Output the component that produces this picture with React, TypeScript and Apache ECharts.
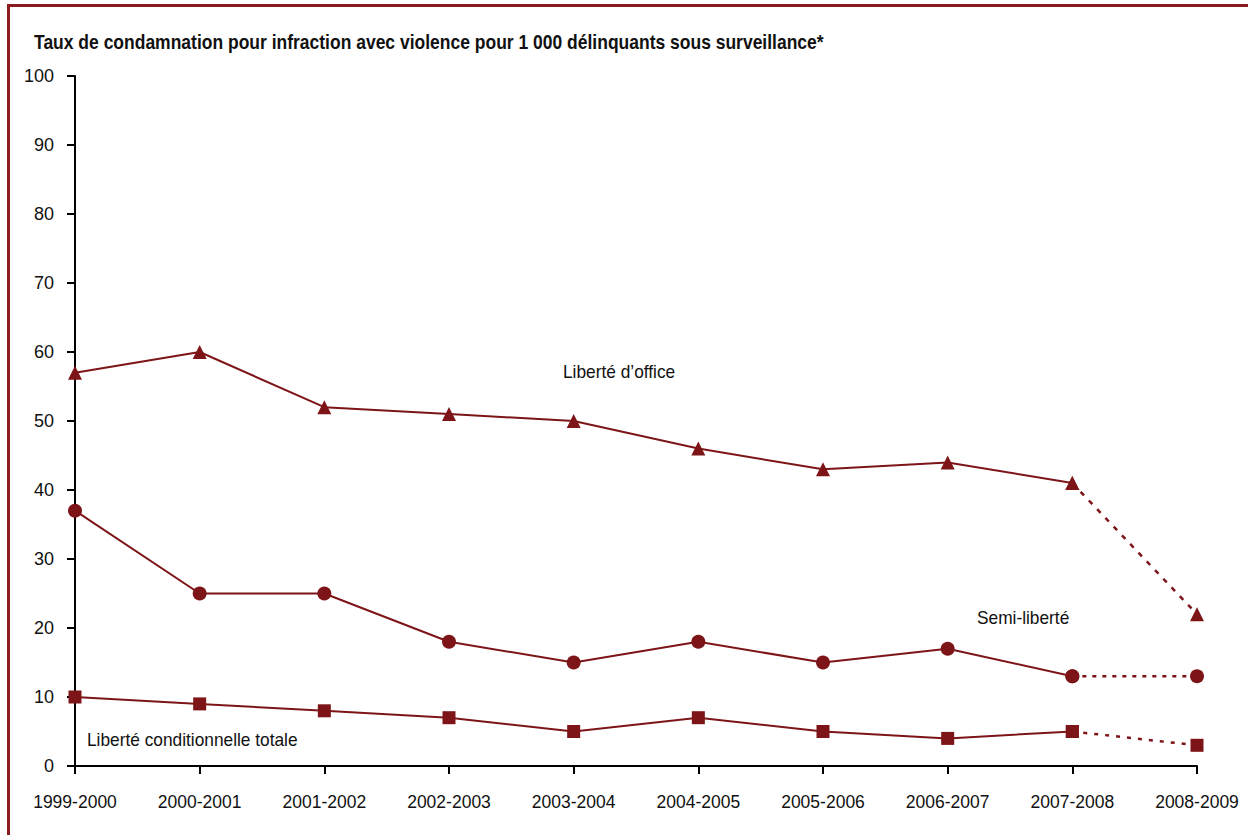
import React, { useEffect, useRef } from "react";
import * as echarts from "echarts";

const categories = ["1999-2000", "2000-2001", "2001-2002", "2002-2003", "2003-2004", "2004-2005", "2005-2006", "2006-2007", "2007-2008", "2008-2009"];
const liberteOffice = [57, 60, 52, 51, 50, 46, 43, 44, 41, 22];
const semiLiberte = [37, 25, 25, 18, 15, 18, 15, 17, 13, 13];
const liberteConditionnelle = [10, 9, 8, 7, 5, 7, 5, 4, 5, 3];
const yTicks = { min: 0, max: 100, interval: 10 };
const title = "Taux de condamnation pour infraction avec violence pour 1 000 délinquants sous surveillance*";

const RED = "#7d1518";
const FONT = "'Liberation Sans', Arial, sans-serif";

function solidPart(arr: number[]) {
  return arr.map((v, i) => (i < arr.length - 1 ? v : "-"));
}
function dottedPart(arr: number[]) {
  return arr.map((v, i) => (i >= arr.length - 2 ? v : "-"));
}

export default function App() {
  const ref = useRef<HTMLDivElement>(null);
  useEffect(() => {
    const chart = echarts.init(ref.current!, null, { renderer: "svg" });
    const mk = (name: string, data: number[], symbol: string, size: number, dash: any) => [
      {
        name,
        type: "line",
        data: solidPart(data),
        symbol,
        symbolSize: size,
        showAllSymbol: true,
        itemStyle: { color: RED },
        lineStyle: { color: RED, width: 2 },
        z: 3,
      },
      {
        name: name + " (dotted)",
        type: "line",
        data: dottedPart(data),
        symbol,
        symbolSize: size,
        showAllSymbol: true,
        itemStyle: { color: RED },
        lineStyle: { color: RED, width: 2.5, type: dash },
        z: 2,
      },
    ];
    const label = (text: string, x: number, y: number, size: number, sx: number, bold = false) => ({
      type: "text",
      x,
      y,
      scaleX: sx,
      style: {
        text,
        font: `${bold ? "bold " : ""}${size}px ${FONT}`,
        fill: "#111",
        textAlign: "left",
        textVerticalAlign: "middle",
      },
    });
    chart.setOption({
      animation: false,
      backgroundColor: "#ffffff",
      textStyle: { fontFamily: FONT },
      grid: { left: 75, right: 51, top: 76, bottom: 69, containLabel: false },
      xAxis: {
        type: "category",
        data: categories,
        boundaryGap: false,
        axisLine: { lineStyle: { color: "#000", width: 2 } },
        axisTick: { alignWithLabel: true, interval: 0, length: 8, lineStyle: { color: "#000", width: 2 } },
        axisLabel: { color: "#111", fontSize: 17.5, margin: 27, interval: 0, fontFamily: FONT },
        splitLine: { show: false },
      },
      yAxis: {
        type: "value",
        min: yTicks.min,
        max: yTicks.max,
        interval: yTicks.interval,
        axisLine: { show: true, lineStyle: { color: "#000", width: 2 } },
        axisTick: { show: true, length: 8, lineStyle: { color: "#000", width: 2 } },
        axisLabel: { color: "#111", fontSize: 18, margin: 21, fontFamily: FONT },
        splitLine: { show: false },
      },
      series: [
        ...mk("Liberté d’office", liberteOffice, "triangle", 14, [5, 7]),
        ...mk("Semi-liberté", semiLiberte, "circle", 14, [4, 6]),
        ...mk("Liberté conditionnelle totale", liberteConditionnelle, "rect", 13, [4, 7]),
      ],
      graphic: [
        {
          type: "polyline",
          shape: { points: [[8.5, 835], [8.5, 5.5], [1248, 5.5]] },
          style: { stroke: "#8b1a1e", lineWidth: 3, fill: "none" },
          silent: true,
        },
        label(title, 34, 42, 19.5, 17.5 / 19.5, true),
        label("Liberté d’office", 563, 372, 19, 17.3 / 19),
        label("Semi-liberté", 977, 618, 19, 17.3 / 19),
        label("Liberté conditionnelle totale", 87, 740, 19, 17.3 / 19),
      ],
    });
    return () => chart.dispose();
  }, []);
  return (
    <div
      ref={ref}
      style={{ position: "absolute", left: 0, top: 0, width: 1248, height: 835, background: "#fff" }}
    />
  );
}
